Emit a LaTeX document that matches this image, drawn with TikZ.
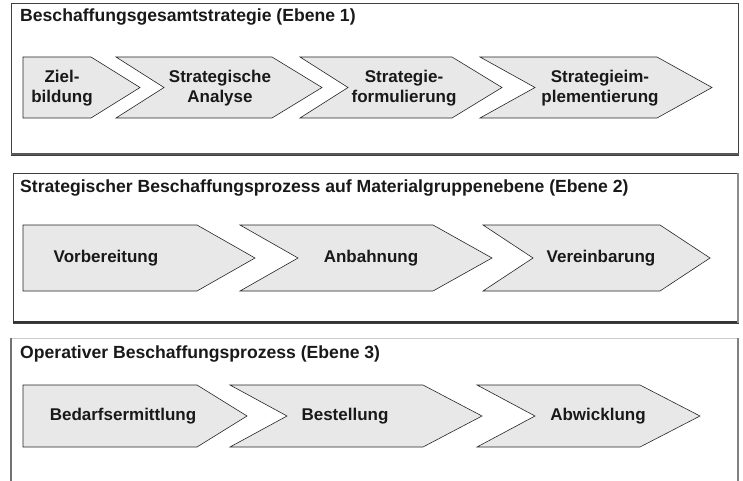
\documentclass[tikz,border=0pt]{standalone}
\usepackage{fontspec}
\setmainfont{Liberation Sans}
\usetikzlibrary{positioning}
\definecolor{chevfill}{gray}{0.91}
\definecolor{txtgray}{gray}{0.1}
\tikzset{
    chev/.style = {draw=black!85, fill=chevfill, line width=0.6pt},
    lbl/.style = {font=\bfseries\fontsize{17}{19.5}\selectfont, align=center, text=txtgray, inner sep=0pt},
    ttl/.style = {font=\bfseries\fontsize{17.6}{20}\selectfont, text=txtgray, anchor=base west, inner sep=0pt},
    frame/.style = {draw=black!75, line width=0.8pt}
}

\begin{document}
\begin{tikzpicture}[x=1pt, y=-1pt]
    \useasboundingbox (0,0) rectangle (743,481);

    % Ebene 1
    \draw[frame] (11,3) rectangle (738,155);
    \draw[black!65, line width=2.5pt] (11,154) -- (739,154);
    \node[ttl] (ebeneA) at (20,22) {Beschaffungsgesamtstrategie (Ebene 1)};
    \draw[chev] (23,57) -- (91,57) -- (140,87.5) -- (91,118) -- (23,118) -- cycle;
    \draw[chev] (116,57) -- (272,57) -- (322,87.5) -- (272,118) -- (116,118) -- (164,87.5) -- cycle;
    \draw[chev] (300,57) -- (452,57) -- (502,87.5) -- (452,118) -- (300,118) -- (348,87.5) -- cycle;
    \draw[chev] (480,57) -- (657,57) -- (712,87.5) -- (657,118) -- (480,118) -- (535,87.5) -- cycle;
    \node[lbl] (ziel) at (62,88) {Ziel-\\bildung};
    \node[lbl] (analyse) at (220,88) {Strategische\\Analyse};
    \node[lbl] (formul) at (404,88) {Strategie-\\formulierung};
    \node[lbl] (implem) at (600,88) {Strategieim-\\plementierung};

    % Ebene 2
    \draw[frame] (13,173) rectangle (738,323);
    \draw[black!80, line width=2.5pt] (13,322) -- (739,322);
    \draw[black!45, line width=2.5pt] (738,173) -- (738,323);
    \node[ttl] (ebeneB) at (20,192) {Strategischer Beschaffungsprozess auf Materialgruppenebene (Ebene 2)};
    \draw[chev] (23,225) -- (197,225) -- (255,258) -- (197,291) -- (23,291) -- cycle;
    \draw[chev] (240,225) -- (433,225) -- (492,258) -- (433,291) -- (240,291) -- (298,258) -- cycle;
    \draw[chev] (483,225) -- (660,225) -- (710,258) -- (660,291) -- (483,291) -- (533,258) -- cycle;
    \node[lbl] (vorb) at (106,258) {Vorbereitung};
    \node[lbl] (anbahn) at (371,258) {Anbahnung};
    \node[lbl] (vereinb) at (601,258) {Vereinbarung};

    % Ebene 3
    \draw[black!20, line width=0.8pt] (11,338) -- (738,338);
    \draw[black!55, line width=2pt] (11,338) -- (11,481);
    \draw[black!50, line width=2.5pt] (738,338) -- (738,481);
    \node[ttl] (ebeneC) at (20,358) {Operativer Beschaffungsprozess (Ebene 3)};
    \draw[chev] (23,385) -- (197,385) -- (247,416) -- (197,447) -- (23,447) -- cycle;
    \draw[chev] (230,385) -- (423,385) -- (482,416) -- (423,447) -- (230,447) -- (287,416) -- cycle;
    \draw[chev] (477,385) -- (640,385) -- (700,416) -- (640,447) -- (477,447) -- (535,416) -- cycle;
    \node[lbl] (bedarf) at (123,416) {Bedarfsermittlung};
    \node[lbl] (bestell) at (345,416) {Bestellung};
    \node[lbl] (abwickl) at (598,416) {Abwicklung};
\end{tikzpicture}
\end{document}
